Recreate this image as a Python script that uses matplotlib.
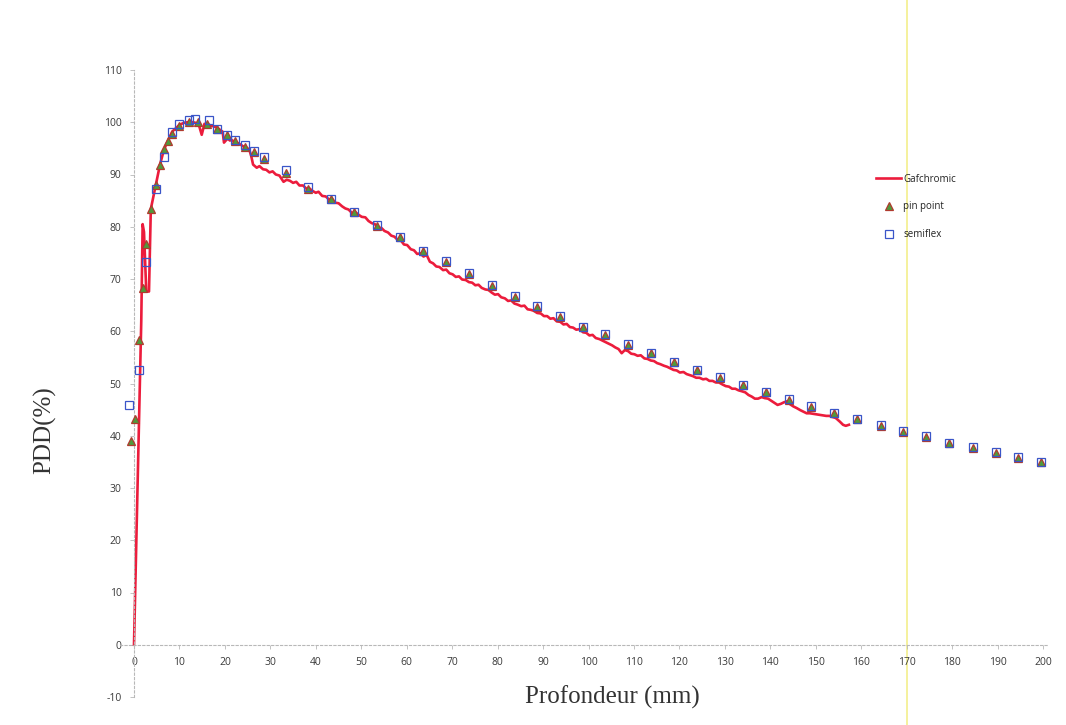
import matplotlib
matplotlib.use("Agg")
import matplotlib.pyplot as plt
from matplotlib.lines import Line2D

# Gafchromic film depth-dose profile (depth in mm, PDD in %)
gaf_depth = [0.0, 1.6, 1.9, 2.2, 2.5, 2.7, 3.3, 3.7, 4.8, 5.7, 6.6, 7.5, 8.4, 10.0, 11.0,
             12.5, 13.5, 14.3, 14.9, 15.5, 16.5, 17.5, 18.2, 19.5, 19.8, 20.6, 21.1, 21.5,
             22.0, 22.6, 23.3, 24.0, 24.5, 25.0, 25.5, 25.8,
             26.2, 27.0, 27.6, 28.4, 29.1, 29.8, 30.5, 31.2, 32.0, 32.9, 33.6, 34.3, 35.0,
             35.7, 36.4, 37.2, 37.9, 38.5, 39.2, 40.0, 40.6, 41.4, 42.2, 42.9, 43.6, 44.3,
             45.0, 45.8, 46.5, 47.2, 48.0, 48.7, 49.4, 50.1, 50.9, 51.6, 52.3, 53.0, 53.7,
             54.4, 55.1, 55.9, 56.6, 57.3, 58.0, 58.7, 59.4, 60.1, 60.9, 61.6, 62.3, 63.0,
             63.7, 64.4, 65.1, 65.8, 66.5, 67.2, 68.0, 68.7, 69.4, 70.1, 70.8, 71.5, 72.2,
             73.0, 73.7, 74.4, 75.1, 75.8, 76.5, 77.3, 78.0, 78.7, 79.4, 80.1, 80.8, 81.6,
             82.3, 83.0, 83.7, 84.4, 85.2, 85.9, 86.6, 87.3, 88.0, 88.7, 89.5, 90.2, 90.9,
             91.6, 92.3, 93.0, 93.8, 94.5, 95.2, 95.9, 96.6, 97.3, 98.1, 98.8, 99.5, 100.2,
             100.9, 101.6, 102.4, 103.1, 103.8, 104.5, 105.2, 105.9, 106.6, 107.3, 108.0,
             108.7, 109.4, 110.1, 110.8, 111.5, 112.3, 113.0, 113.7, 114.4, 115.1, 115.8,
             116.6, 117.3, 118.0, 118.7, 119.4, 120.1, 120.9, 121.6, 122.3, 123.0, 123.7,
             124.4, 125.2, 125.9, 126.6, 127.3, 128.0, 128.7, 129.5, 130.2, 130.9, 131.6,
             132.3, 133.0, 133.8, 134.5, 135.2, 135.9, 136.6, 137.3, 138.1, 138.8, 139.5,
             140.2, 140.9, 141.6, 142.3, 143.0, 143.7, 144.4, 145.1, 145.8, 146.6, 147.3,
             148.0, 148.7, 149.4, 150.1, 150.8, 151.6, 152.3, 153.0, 153.7, 154.4, 155.3,
             156.0, 156.6, 157.3]
gaf_pdd = [0.0, 62.0, 80.5, 79.0, 72.0, 67.6, 67.6, 83.4, 88.0, 91.8, 94.8, 96.5, 98.2, 99.5, 99.9,
           100.1, 99.9, 99.4, 97.6, 99.7, 99.5, 99.2, 99.0, 98.2, 96.1, 96.9, 96.5, 96.6,
           96.3, 96.1, 95.8, 95.4, 95.3, 95.0, 94.4, 93.5,
           91.9, 91.3, 91.6, 91.0, 90.9, 90.4, 90.6, 90.0, 89.8, 88.6, 89.0, 88.8, 88.4,
           88.6, 87.9, 87.9, 87.3, 87.4, 86.9, 86.5, 86.7, 85.9, 85.8, 85.2, 85.3, 84.6,
           84.5, 83.9, 83.5, 83.3, 82.6, 82.8, 82.3, 81.9, 81.8, 81.1, 80.7, 80.5, 79.7,
           79.8, 79.2, 78.9, 78.3, 78.1, 77.5, 77.4, 76.6, 76.5, 75.7, 75.5, 74.8, 74.9,
           74.3, 74.6, 73.3, 73.0, 72.4, 72.3, 71.7, 71.8, 71.1, 70.9, 70.4, 70.5, 69.9,
           69.8, 69.4, 69.3, 68.8, 68.9, 68.3, 68.0, 67.9, 67.4, 67.0, 67.1, 66.5, 66.3,
           65.8, 65.9, 65.3, 65.1, 64.8, 64.9, 64.2, 64.1, 63.9, 63.5, 63.4, 62.9, 62.9,
           62.4, 62.5, 61.9, 61.8, 61.3, 61.4, 60.8, 60.7, 60.3, 60.4, 59.8, 59.7, 59.2,
           59.3, 58.7, 58.5, 58.2, 57.9, 57.6, 57.3, 56.9, 56.6, 55.8, 56.4,
           56.2, 55.7, 55.6, 55.3, 55.4, 54.8, 54.7, 54.4, 54.3, 53.9, 53.7,
           53.4, 53.2, 52.9, 52.6, 52.5, 52.1, 52.2, 51.8, 51.6, 51.4, 51.1,
           51.1, 50.8, 50.9, 50.5, 50.5, 50.2, 50.2, 49.8, 49.5, 49.4, 49.0,
           49.0, 48.7, 48.5, 48.3, 47.8, 47.5, 47.1, 47.1, 47.4, 47.2, 47.1,
           46.7, 46.3, 45.9, 46.1, 46.4, 46.6, 46.0, 45.6, 45.3, 44.9, 44.6,
           44.3, 44.3, 44.2, 44.1, 44.0, 43.9, 43.8, 43.8, 43.6, 43.4, 42.7,
           42.1, 41.9, 42.1]

# Pin point chamber measurements
pin_depth = [-0.7, 0.3, 1.0, 2.0, 2.6, 3.7, 4.8, 5.7, 6.6, 7.5, 8.4, 10.0, 12.0, 14.0, 16.0,
             18.2, 20.4, 22.2, 24.4, 26.4, 28.6, 33.4, 38.3, 43.3, 48.4, 53.5, 58.5, 63.6,
             68.6, 73.7, 78.8, 83.8, 88.7, 93.7, 98.8, 103.6, 108.8, 113.8, 118.8, 123.8,
             128.9, 134.0, 139.0, 144.2, 149.0, 154.1, 159.1, 164.3, 169.3, 174.2, 179.4,
             184.5, 189.6, 194.6, 199.6]
pin_pdd = [38.9, 43.2, 58.3, 68.3, 76.7, 83.4, 88.0, 91.8, 94.8, 96.5, 97.8, 99.3, 100.0, 100.0,
           99.6, 98.8, 97.6, 96.4, 95.2, 94.3, 93.0, 90.2, 87.3, 85.3, 82.8, 80.2, 78.0, 75.3,
           73.2, 71.0, 68.7, 66.6, 64.7, 62.7, 60.8, 59.2, 57.4, 55.8, 54.1, 52.5, 51.1,
           49.7, 48.3, 46.9, 45.5, 44.3, 43.2, 41.9, 40.8, 39.7, 38.6, 37.7, 36.7, 35.8, 34.9]

# Semiflex chamber measurements
semi_depth = [-1.1, 1.0, 2.6, 4.8, 6.5, 8.4, 10.0, 12.0, 13.5, 16.5, 18.2, 20.4, 22.2, 24.4,
              26.4, 28.6, 33.4, 38.3, 43.3, 48.4, 53.5, 58.5, 63.6, 68.6, 73.7, 78.8, 83.8,
              88.7, 93.7, 98.8, 103.6, 108.8, 113.8, 118.8, 123.8, 128.9, 134.0, 139.0,
              144.2, 149.0, 154.1, 159.1, 164.3, 169.3, 174.2, 179.4, 184.5, 189.6, 194.6,
              199.6]
semi_pdd = [45.8, 52.5, 73.3, 87.2, 93.4, 98.1, 99.6, 100.4, 100.6, 100.4, 98.8, 97.6, 96.6,
            95.6, 94.5, 93.4, 90.9, 87.6, 85.4, 82.9, 80.3, 78.1, 75.4, 73.4, 71.1, 68.8,
            66.8, 64.9, 62.9, 60.9, 59.4, 57.5, 55.9, 54.2, 52.6, 51.2, 49.8, 48.4, 47.0,
            45.6, 44.4, 43.3, 42.0, 40.9, 39.9, 38.7, 37.8, 36.9, 35.9, 35.0]

x_ticks = list(range(0, 201, 10))
y_ticks = list(range(-10, 111, 10))

W, H = 1066, 725
fig = plt.figure(figsize=(W / 100, H / 100), dpi=100)
fig.patch.set_facecolor("white")

x0, x1 = -3, 201
left_px, right_px = 134 + x0 * 4.545, 134 + x1 * 4.545
ax = fig.add_axes([left_px / W, 1 - 697 / H, (right_px - left_px) / W, (697 - 70) / H])
ax.set_xlim(x0, x1)
ax.set_ylim(-10, 110)

ax.plot(gaf_depth, gaf_pdd, color="#ec1c3c", lw=1.9, zorder=2, label="Gafchromic",
        solid_joinstyle="round")
ax.plot(pin_depth, pin_pdd, linestyle="none", marker="^", markersize=5.3,
        markerfacecolor="#4f9a3c", markeredgecolor="#b03a2e", markeredgewidth=0.9,
        zorder=3, label="pin point")
ax.plot(semi_depth, semi_pdd, linestyle="none", marker="s", markersize=5.3,
        markerfacecolor="none", markeredgecolor="#3a55c8", markeredgewidth=0.9,
        zorder=4, label="semiflex")

# Excel-style axes crossing at the origin
for side in ("top", "right"):
    ax.spines[side].set_visible(False)
ax.spines["left"].set_position(("data", 0))
ax.spines["bottom"].set_position(("data", 0))
for side in ("left", "bottom"):
    ax.spines[side].set_color("#b8b8b8")
    ax.spines[side].set_linestyle((0, (2, 2)))
    ax.spines[side].set_linewidth(0.8)

tick_font = dict(family=["Open Sans", "DejaVu Sans"], size=7.5, color="#3a3a3a")
ax.set_xticks(x_ticks)
ax.set_xticklabels([str(v) for v in x_ticks], **tick_font)
ax.set_yticks(y_ticks)
ax.set_yticklabels([str(v) for v in y_ticks], **tick_font)
ax.tick_params(axis="both", direction="out", length=3, width=0.6, color="#b8b8b8", pad=6)
ax.patch.set_alpha(0)

fig.text(612 / W, 1 - 697 / H, "Profondeur (mm)", ha="center", va="center",
         family=["Liberation Serif", "DejaVu Serif"], fontsize=18, color="#333333")
fig.text(45 / W, 1 - 430 / H, "PDD(%)", ha="center", va="center", rotation=90,
         family=["Liberation Serif", "DejaVu Serif"], fontsize=18, color="#333333")

leg = ax.legend(loc="upper left", bbox_to_anchor=(872 / W, 1 - 170 / H),
                bbox_transform=fig.transFigure, frameon=False,
                prop={"family": ["Open Sans", "DejaVu Sans"], "size": 7},
                handlelength=2.6, handletextpad=0.2, labelspacing=1.7,
                borderaxespad=0)
for t in leg.get_texts():
    t.set_color("#222222")

# faint yellow streak running down the sheet
fig.add_artist(Line2D([907 / W, 907 / W], [0, 1], transform=fig.transFigure,
                      color="#f3ef8c", lw=1.2, zorder=0))

fig.savefig("out.png", dpi=100, facecolor="white")
